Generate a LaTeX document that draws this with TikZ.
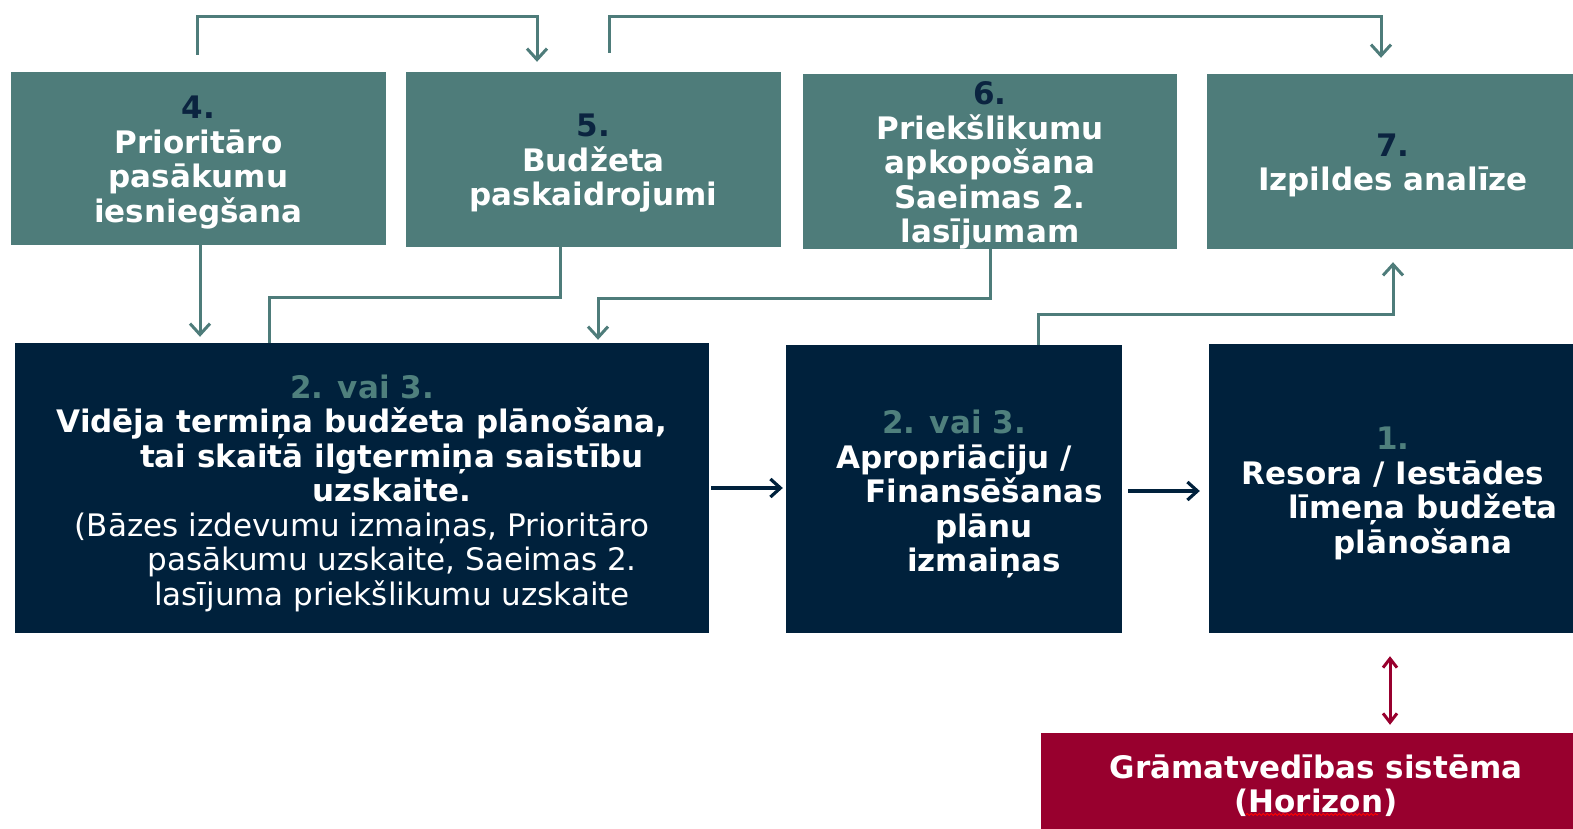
\documentclass[tikz,border=0pt]{standalone}
\usepackage{fontspec}
\setmainfont{DejaVu Sans}
\usetikzlibrary{arrows.meta,decorations.pathmorphing}
\definecolor{tealbox}{HTML}{4E7C7A}
\definecolor{navybox}{HTML}{00213C}
\definecolor{redbox}{HTML}{98002E}
\definecolor{tealtxt}{HTML}{4F807D}
\definecolor{numnavy}{HTML}{0B2440}
\newcommand{\ind}{\hspace*{60pt}}
\tikzset{
  boxbase/.style={inner sep=0pt},
  tealbx/.style={boxbase, fill=tealbox},
  navybx/.style={boxbase, fill=navybox},
  redbx/.style={boxbase, fill=redbox},
  lbl/.style={inner sep=0pt, align=center, text=white,
    font=\fontsize{31}{34.5}\selectfont\bfseries},
  tline/.style={draw=tealbox, line width=3pt},
  tarrow/.style={tline, -{Straight Barb[length=11pt,width=20pt]}},
  narrow/.style={draw=navybox, line width=3.2pt, -{Straight Barb[length=10pt,width=18pt]}},
  rarrow/.style={draw=redbox, line width=3pt, {Straight Barb[length=9pt,width=14pt]}-{Straight Barb[length=9pt,width=14pt]}},
}
\begin{document}
\begin{tikzpicture}[x=1pt,y=-1pt]
\useasboundingbox (0,0) rectangle (1573,829);
\clip (0,0) rectangle (1573,829);
% top row boxes
\node[tealbx, minimum width=375pt, minimum height=173pt] (b4) at (198.5,158.5) {};
\node[tealbx, minimum width=375pt, minimum height=175pt] (b5) at (593.5,159.5) {};
\node[tealbx, minimum width=374pt, minimum height=175pt] (b6) at (990,161.5) {};
\node[tealbx, minimum width=372pt, minimum height=175pt] (b7) at (1393,161.5) {};
% middle row boxes
\node[navybx, minimum width=694pt, minimum height=290pt] (big) at (362,488) {};
\node[navybx, minimum width=336pt, minimum height=288pt] (ap) at (954,489) {};
\node[navybx, minimum width=368pt, minimum height=289pt] (res) at (1393,488.5) {};
% bottom box
\node[redbx, minimum width=550pt, minimum height=97pt] (gr) at (1316,781.5) {};
% texts
\node[lbl] (t4) at ([yshift=-4pt]b4.center)
  {{\color{numnavy}4.}\\Prioritāro\\pasākumu\\iesniegšana};
\node[lbl] (t5) at ([yshift=-4pt]b5.center)
  {{\color{numnavy}5.}\\Budžeta\\paskaidrojumi};
\node[lbl] (t6) at ([yshift=-4pt]b6.center)
  {{\color{numnavy}6.}\\Priekšlikumu\\apkopošana\\Saeimas 2.\\lasījumam};
\node[lbl] (t7) at ([yshift=-4pt]b7.center)
  {{\color{numnavy}7.}\\Izpildes analīze};
\node[lbl] (tbig) at ([yshift=-5pt]big.center)
  {{\color{tealtxt}2. vai 3.}\\
   Vidēja termiņa budžeta plānošana,\\
   \ind tai skaitā ilgtermiņa saistību\\
   \ind uzskaite.\\
   {\mdseries (Bāzes izdevumu izmaiņas, Prioritāro}\\
   \ind{\mdseries pasākumu uzskaite, Saeimas 2.}\\
   \ind{\mdseries lasījuma priekšlikumu uzskaite}};
\node[lbl] (tap) at ([yshift=-5pt]ap.center)
  {{\color{tealtxt}2. vai 3.}\\
   Apropriāciju /\\
   \ind Finansēšanas\\
   \ind plānu\\
   \ind izmaiņas};
\node[lbl] (tres) at ([yshift=-5pt]res.center)
  {{\color{tealtxt}1.}\\
   Resora / Iestādes\\
   \ind līmeņa budžeta\\
   \ind plānošana};
\node[lbl] (tgr) at ([yshift=-4pt]gr.center)
  {Grāmatvedības sistēma\\(Horizon)};
\draw[red, line width=1pt, decorate, decoration={snake, amplitude=1pt, segment length=4pt}]
  ([xshift=-70pt, yshift=-33pt]gr.center) -- ([xshift=62pt, yshift=-33pt]gr.center);
% teal connectors
\draw[tarrow] ([xshift=-1.5pt, yshift=17pt]b4.north) -- ++(0,-38) -| ([xshift=-56.5pt, yshift=10pt]b5.north);
\draw[tarrow] ([xshift=15.5pt, yshift=19pt]b5.north) -- ++(0,-36) -| ([xshift=-12pt, yshift=16pt]b7.north);
\draw[tarrow, shorten >=6pt] ([xshift=1.5pt]b4.south) -- ([xshift=1.5pt]b4.south |- big.north);
\draw[tline] ([xshift=-33.5pt]b5.south) -- ++(0,50) -| ([xshift=-93pt]big.north);
\draw[tarrow, shorten >=3pt] (b6.south) -- ++(0,49) -| ([xshift=236pt]big.north);
\draw[tarrow, shorten >=13pt] ([xshift=84pt]ap.north) -- ++(0,-30) -| (b7.south);
% navy arrows
\draw[narrow, shorten <=2pt, shorten >=3pt] (big.east) -- (big.east -| ap.west);
\draw[narrow, shorten <=6pt, shorten >=9pt] ([yshift=-2pt]ap.east) -- ([yshift=-2pt]ap.east -| res.west);
% red double arrow
\draw[rarrow, shorten <=23pt, shorten >=8pt] ([xshift=-3pt]res.south) -- ([xshift=-3pt]res.south |- gr.north);
\end{tikzpicture}
\end{document}
